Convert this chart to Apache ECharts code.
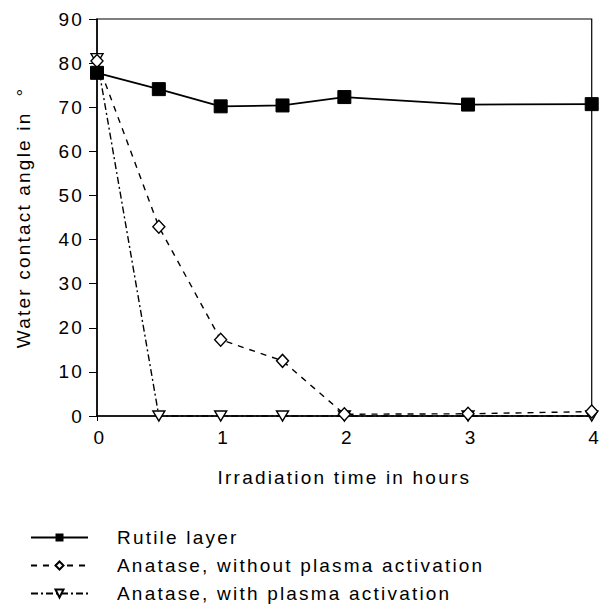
<!DOCTYPE html>
<html><head><meta charset="utf-8">
<script src="https://cdn.jsdelivr.net/npm/echarts@6/dist/echarts.min.js"></script>
<style>html,body{margin:0;padding:0;background:#fff}#c{width:603px;height:610px}
#c svg text{letter-spacing:2.2px}</style>
</head><body><div id="c"></div>
<script>
const hours = [0, 0.5, 1, 1.5, 2, 3, 4];
const rutile = [77.8, 74.1, 70.2, 70.4, 72.3, 70.6, 70.7];
const anataseNoPlasma = [80.5, 42.9, 17.3, 12.5, 0.4, 0.5, 1.0];
const anataseWithPlasma = [81, 0, 0, 0, 0, 0, 0];
const seriesNames = ['Rutile layer', 'Anatase, without plasma activation', 'Anatase, with plasma activation'];
const xTicks = [0, 1, 2, 3, 4];
const yTicks = [0, 10, 20, 30, 40, 50, 60, 70, 80, 90];
const xTitle = 'Irradiation time in hours';
const yTitle = 'Water contact angle in\u00a0\u00a0°';

const pair = arr => hours.map((h, i) => [h, arr[i]]);
const font = 'Liberation Sans, Arial, sans-serif';
const fs = 19;
const chart = echarts.init(document.getElementById('c'), null, { renderer: 'svg' });
chart.setOption({
  animation: false,
  backgroundColor: '#fff',
  grid: { left: 97, right: 6, top: 19, bottom: 194, show: true, borderColor: '#000', borderWidth: 1.2 },
  xAxis: {
    type: 'value', min: xTicks[0], max: xTicks[xTicks.length - 1], interval: 1,
    name: xTitle, nameLocation: 'middle', nameGap: 52,
    nameTextStyle: { fontFamily: font, fontSize: fs, color: '#000' },
    axisLine: { lineStyle: { color: '#000', width: 1.5 } },
    axisTick: { show: true, length: 5, inside: false, lineStyle: { color: '#000' } },
    axisLabel: { fontFamily: font, fontSize: fs, color: '#000', margin: 12, padding: [0, 0, 0, 6] },
    splitLine: { show: false }
  },
  yAxis: {
    type: 'value', min: yTicks[0], max: yTicks[yTicks.length - 1], interval: 10,
    name: yTitle, nameLocation: 'middle', nameGap: 64, nameRotate: 90,
    nameTextStyle: { fontFamily: font, fontSize: fs, color: '#000' },
    axisLine: { lineStyle: { color: '#000', width: 1.5 } },
    axisTick: { show: true, length: 8, lineStyle: { color: '#000' } },
    axisLabel: { fontFamily: font, fontSize: fs, color: '#000', margin: 13 },
    splitLine: { show: false }
  },
  legend: {
    orient: 'vertical', left: 25, top: 523, itemWidth: 57, itemHeight: 10, itemGap: 9,
    textStyle: { fontFamily: font, fontSize: fs, color: '#000', padding: [0, 0, 0, 24] },
    data: seriesNames
  },
  series: [
    {
      name: seriesNames[0], type: 'line', data: pair(rutile), clip: false, z: 5,
      symbol: 'rect', symbolSize: 13,
      lineStyle: { color: '#000', width: 1.8, type: 'solid' },
      itemStyle: { color: '#000', borderColor: '#000' }
    },
    {
      name: seriesNames[1], type: 'line', data: pair(anataseNoPlasma), clip: false, z: 4,
      symbol: 'diamond', symbolSize: [12, 13],
      lineStyle: { color: '#000', width: 1.4, type: [6, 6] },
      itemStyle: { color: '#fff', borderColor: '#000', borderWidth: 1.4 }
    },
    {
      name: seriesNames[2], type: 'line', data: pair(anataseWithPlasma), clip: false, z: 3,
      symbol: 'triangle', symbolRotate: 180, symbolSize: [12, 10],
      lineStyle: { color: '#000', width: 1.4, type: [7, 3, 2, 3] },
      itemStyle: { color: '#fff', borderColor: '#000', borderWidth: 1.4 }
    }
  ]
});
</script></body></html>
